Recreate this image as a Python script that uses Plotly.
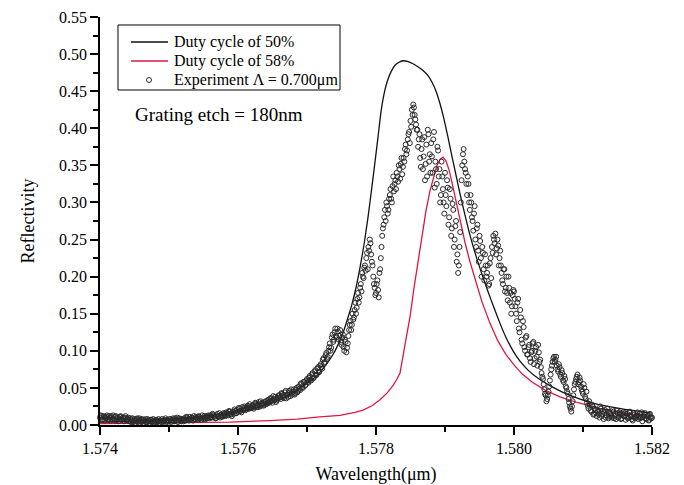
import numpy as np
import plotly.graph_objects as go

# ---------------- data ----------------
# Simulated reflectivity, duty cycle 50 %
sim50_wl = [1.574000, 1.574435, 1.574870, 1.575304, 1.575739, 1.576130, 1.576391, 1.576609, 1.576826, 1.576971,
            1.577087, 1.577188, 1.577290, 1.577377, 1.577449, 1.577522, 1.577594, 1.577652, 1.577710, 1.577768,
            1.577826, 1.577884, 1.577942, 1.577986, 1.578029, 1.578072, 1.578116, 1.578159, 1.578217, 1.578275,
            1.578333, 1.578391, 1.578464, 1.578536, 1.578609, 1.578681, 1.578754, 1.578812, 1.578870, 1.578928,
            1.578986, 1.579043, 1.579101, 1.579159, 1.579217, 1.579290, 1.579362, 1.579449, 1.579536, 1.579623,
            1.579710, 1.579797, 1.579884, 1.579986, 1.580087, 1.580203, 1.580348, 1.580522, 1.580710, 1.580957,
            1.581246, 1.581609, 1.582000]
sim50_r = [0.004, 0.005, 0.007, 0.010, 0.014, 0.020, 0.026, 0.034, 0.045, 0.054,
           0.062, 0.071, 0.083, 0.095, 0.108, 0.124, 0.145, 0.163, 0.185, 0.212,
           0.243, 0.280, 0.322, 0.355, 0.388, 0.422, 0.446, 0.462, 0.476, 0.485,
           0.489, 0.491, 0.490, 0.487, 0.483, 0.478, 0.471, 0.462, 0.450, 0.433,
           0.412, 0.388, 0.362, 0.337, 0.312, 0.283, 0.256, 0.228, 0.203, 0.180,
           0.158, 0.137, 0.118, 0.100, 0.086, 0.074, 0.063, 0.053, 0.044, 0.035,
           0.027, 0.021, 0.016]

# Simulated reflectivity, duty cycle 58 %
sim58_wl = [1.574000, 1.574870, 1.575884, 1.576464, 1.576855, 1.577188, 1.577478, 1.577696, 1.577812, 1.577942,
            1.578058, 1.578159, 1.578246, 1.578304, 1.578348, 1.578420, 1.578493, 1.578551, 1.578609, 1.578667,
            1.578725, 1.578783, 1.578841, 1.578884, 1.578928, 1.578971, 1.579014, 1.579058, 1.579101, 1.579159,
            1.579217, 1.579290, 1.579362, 1.579449, 1.579536, 1.579652, 1.579768, 1.579884, 1.580000, 1.580116,
            1.580261, 1.580449, 1.580667, 1.580928, 1.581246, 1.581609, 1.582000]
sim58_r = [0.002, 0.003, 0.004, 0.006, 0.008, 0.011, 0.013, 0.017, 0.020, 0.026,
           0.034, 0.043, 0.053, 0.062, 0.070, 0.108, 0.146, 0.185, 0.222, 0.257,
           0.289, 0.316, 0.337, 0.350, 0.358, 0.361, 0.356, 0.344, 0.327, 0.302,
           0.276, 0.246, 0.220, 0.192, 0.166, 0.137, 0.113, 0.095, 0.081, 0.069,
           0.058, 0.047, 0.038, 0.030, 0.022, 0.016, 0.011]

# Measured reflectivity: two interleaved sweeps over 1.574 um .. 1.582 um, 0.02 nm step each
exp_wl_start = 1.574
exp_mid_wl_start = 1.57401
exp_wl_step = 0.00002
exp_r = [
    0.010, 0.012, 0.008, 0.011, 0.009, 0.013, 0.007, 0.010, 0.012, 0.008,
    0.009, 0.011, 0.006, 0.010, 0.008, 0.012, 0.007, 0.009, 0.010, 0.006,
    0.008, 0.005, 0.009, 0.007, 0.004, 0.008, 0.006, 0.009, 0.005, 0.007,
    0.004, 0.007, 0.005, 0.008, 0.004, 0.006, 0.003, 0.007, 0.005, 0.006,
    0.004, 0.007, 0.005, 0.003, 0.006, 0.008, 0.004, 0.006, 0.005, 0.007,
    0.005, 0.008, 0.006, 0.009, 0.005, 0.007, 0.010, 0.006, 0.008, 0.005,
    0.007, 0.009, 0.006, 0.010, 0.008, 0.011, 0.007, 0.009, 0.012, 0.008,
    0.010, 0.007, 0.011, 0.009, 0.013, 0.008, 0.010, 0.012, 0.009, 0.011,
    0.013, 0.010, 0.014, 0.011, 0.009, 0.015, 0.012, 0.010, 0.014, 0.012,
    0.015, 0.012, 0.016, 0.013, 0.018, 0.014, 0.017, 0.015, 0.019, 0.016,
    0.018, 0.022, 0.019, 0.024, 0.020, 0.023, 0.021, 0.026, 0.022, 0.025,
    0.023, 0.027, 0.024, 0.029, 0.026, 0.031, 0.025, 0.028, 0.030, 0.027,
    0.032, 0.029, 0.034, 0.031, 0.036, 0.030, 0.035, 0.038, 0.033, 0.037,
    0.040, 0.035, 0.042, 0.038, 0.044, 0.036, 0.041, 0.046, 0.039, 0.043,
    0.045, 0.041, 0.048, 0.044, 0.052, 0.047, 0.055, 0.050, 0.058, 0.054,
    0.062, 0.057, 0.066, 0.060, 0.070, 0.064, 0.074, 0.068, 0.078, 0.072,
    0.082, 0.076, 0.090, 0.085, 0.097, 0.092, 0.105, 0.100, 0.118, 0.112,
    0.125, 0.120, 0.130, 0.115, 0.128, 0.108, 0.122, 0.100, 0.112, 0.104,
    0.120, 0.135, 0.128, 0.150, 0.145, 0.165, 0.158, 0.178, 0.172, 0.190,
    0.205, 0.198, 0.215, 0.225, 0.210, 0.235, 0.245, 0.220, 0.200, 0.185,
    0.178, 0.195, 0.172, 0.210, 0.240, 0.265, 0.280, 0.275, 0.295, 0.290,
    0.310, 0.305, 0.322, 0.315, 0.330, 0.340, 0.328, 0.345, 0.352, 0.338,
    0.360, 0.372, 0.365, 0.385, 0.395, 0.410, 0.425, 0.432, 0.418, 0.405,
    0.398, 0.385, 0.360, 0.372, 0.345, 0.388, 0.352, 0.335, 0.392, 0.365,
    0.380, 0.340, 0.395, 0.355, 0.325, 0.370, 0.345, 0.310, 0.335, 0.300,
    0.340, 0.295, 0.320, 0.280, 0.305, 0.265, 0.290, 0.250, 0.275, 0.230,
    0.215, 0.260, 0.330, 0.365, 0.355, 0.340, 0.310, 0.325, 0.290, 0.300,
    0.275, 0.285, 0.250, 0.265, 0.235, 0.255, 0.225, 0.240, 0.210, 0.230,
    0.200, 0.215, 0.190, 0.225, 0.240, 0.255, 0.245, 0.230, 0.250, 0.215,
    0.235, 0.205, 0.190, 0.210, 0.185, 0.178, 0.200, 0.165, 0.150, 0.175,
    0.180, 0.160, 0.140, 0.170, 0.125, 0.145, 0.110, 0.132, 0.100, 0.120,
    0.095, 0.108, 0.085, 0.100, 0.112, 0.090, 0.105, 0.080, 0.098, 0.088,
    0.070, 0.062, 0.048, 0.040, 0.035, 0.045, 0.060, 0.075, 0.085, 0.092,
    0.088, 0.080, 0.072, 0.078, 0.065, 0.070, 0.058, 0.062, 0.050, 0.042,
    0.030, 0.022, 0.025, 0.040, 0.055, 0.062, 0.068, 0.058, 0.060, 0.048,
    0.042, 0.050, 0.035, 0.030, 0.022, 0.028, 0.018, 0.025, 0.015, 0.020,
    0.012, 0.018, 0.010, 0.022, 0.015, 0.008, 0.020, 0.013, 0.018, 0.011,
    0.015, 0.010, 0.018, 0.012, 0.008, 0.016, 0.011, 0.014, 0.009, 0.017,
    0.012, 0.007, 0.015, 0.010, 0.018, 0.011, 0.006, 0.014, 0.009, 0.013,
    0.008, 0.015, 0.010, 0.005, 0.012, 0.016, 0.009, 0.013, 0.007, 0.011,
    0.010,
]
exp_r_mid = [
    0.013, 0.007, 0.012, 0.006, 0.011, 0.008, 0.012, 0.006, 0.010, 0.013,
    0.006, 0.012, 0.009, 0.005, 0.011, 0.007, 0.010, 0.005, 0.012, 0.008,
    0.010, 0.006, 0.004, 0.009, 0.006, 0.003, 0.008, 0.004, 0.009, 0.005,
    0.008, 0.003, 0.006, 0.004, 0.008, 0.005, 0.007, 0.004, 0.008, 0.003,
    0.006, 0.004, 0.008, 0.006, 0.004, 0.005, 0.007, 0.009, 0.004, 0.006,
    0.008, 0.004, 0.007, 0.005, 0.009, 0.006, 0.004, 0.009, 0.006, 0.008,
    0.005, 0.007, 0.011, 0.007, 0.006, 0.008, 0.010, 0.006, 0.008, 0.011,
    0.008, 0.012, 0.009, 0.007, 0.010, 0.012, 0.008, 0.011, 0.013, 0.009,
    0.011, 0.015, 0.012, 0.009, 0.013, 0.011, 0.016, 0.013, 0.011, 0.016,
    0.013, 0.017, 0.014, 0.019, 0.015, 0.012, 0.018, 0.021, 0.016, 0.020,
    0.023, 0.019, 0.017, 0.021, 0.025, 0.020, 0.024, 0.022, 0.028, 0.023,
    0.026, 0.022, 0.030, 0.027, 0.024, 0.028, 0.032, 0.029, 0.026, 0.031,
    0.028, 0.033, 0.030, 0.036, 0.033, 0.039, 0.034, 0.031, 0.036, 0.040,
    0.037, 0.043, 0.040, 0.036, 0.046, 0.041, 0.038, 0.044, 0.048, 0.041,
    0.048, 0.043, 0.050, 0.046, 0.049, 0.056, 0.051, 0.058, 0.053, 0.060,
    0.058, 0.064, 0.061, 0.068, 0.063, 0.072, 0.067, 0.076, 0.071, 0.080,
    0.078, 0.088, 0.083, 0.094, 0.089, 0.100, 0.110, 0.104, 0.122, 0.115,
    0.130, 0.118, 0.126, 0.120, 0.112, 0.118, 0.105, 0.115, 0.098, 0.110,
    0.128, 0.140, 0.135, 0.142, 0.155, 0.150, 0.170, 0.165, 0.185, 0.180,
    0.200, 0.212, 0.208, 0.232, 0.240, 0.250, 0.230, 0.215, 0.190, 0.175,
    0.190, 0.182, 0.205, 0.225, 0.255, 0.270, 0.290, 0.300, 0.285, 0.305,
    0.318, 0.300, 0.335, 0.325, 0.318, 0.335, 0.350, 0.332, 0.360, 0.348,
    0.355, 0.378, 0.370, 0.392, 0.380, 0.402, 0.418, 0.428, 0.412, 0.398,
    0.375, 0.392, 0.348, 0.385, 0.362, 0.330, 0.378, 0.398, 0.355, 0.340,
    0.362, 0.385, 0.320, 0.345, 0.375, 0.335, 0.300, 0.355, 0.318, 0.285,
    0.310, 0.330, 0.270, 0.318, 0.255, 0.298, 0.240, 0.268, 0.220, 0.205,
    0.240, 0.300, 0.350, 0.372, 0.345, 0.325, 0.335, 0.300, 0.310, 0.280,
    0.262, 0.295, 0.240, 0.270, 0.220, 0.248, 0.200, 0.232, 0.195, 0.215,
    0.205, 0.188, 0.218, 0.198, 0.232, 0.250, 0.258, 0.238, 0.242, 0.225,
    0.215, 0.195, 0.210, 0.180, 0.200, 0.168, 0.185, 0.178, 0.160, 0.182,
    0.170, 0.150, 0.165, 0.130, 0.155, 0.115, 0.140, 0.105, 0.118, 0.095,
    0.105, 0.090, 0.098, 0.110, 0.082, 0.100, 0.092, 0.108, 0.085, 0.078,
    0.065, 0.055, 0.042, 0.032, 0.040, 0.052, 0.068, 0.080, 0.090, 0.085,
    0.092, 0.075, 0.082, 0.068, 0.074, 0.060, 0.066, 0.052, 0.045, 0.035,
    0.025, 0.018, 0.032, 0.048, 0.058, 0.065, 0.055, 0.064, 0.052, 0.045,
    0.055, 0.038, 0.045, 0.026, 0.032, 0.020, 0.027, 0.014, 0.022, 0.016,
    0.020, 0.014, 0.025, 0.012, 0.019, 0.016, 0.010, 0.022, 0.009, 0.016,
    0.012, 0.020, 0.009, 0.015, 0.019, 0.010, 0.017, 0.008, 0.015, 0.012,
    0.016, 0.011, 0.009, 0.017, 0.013, 0.008, 0.016, 0.010, 0.012, 0.017,
    0.012, 0.009, 0.017, 0.011, 0.014, 0.008, 0.012, 0.006, 0.015, 0.009,
]
exp_wl = np.concatenate([
    exp_wl_start + exp_wl_step * np.arange(len(exp_r)),
    exp_mid_wl_start + exp_wl_step * np.arange(len(exp_r_mid)),
])
exp_all_r = np.concatenate([exp_r, exp_r_mid])

x_tick_vals = [1.574, 1.576, 1.578, 1.580, 1.582]
x_tick_text = ["1.574", "1.576", "1.578", "1.580", "1.582"]
y_tick_vals = [0.00, 0.05, 0.10, 0.15, 0.20, 0.25, 0.30, 0.35, 0.40, 0.45, 0.50, 0.55]
y_tick_text = ["%.2f" % v for v in y_tick_vals]

legend_labels = ["Duty cycle of 50%", "Duty cycle of 58%", "Experiment \u039b = 0.700\u03bcm"]

# ---------------- figure ----------------
FONT = "Liberation Serif, Times New Roman, serif"
BLACK = "#111111"
RED = "#dc1840"
MARK = "#2a2a2a"

fig = go.Figure()
fig.add_trace(go.Scatter(
    x=sim50_wl, y=sim50_r, mode="lines", name=legend_labels[0],
    line=dict(color=BLACK, width=1.3, shape="spline", smoothing=0.5),
))
fig.add_trace(go.Scatter(
    x=sim58_wl, y=sim58_r, mode="lines", name=legend_labels[1],
    line=dict(color=RED, width=1.3),
))
fig.add_trace(go.Scatter(
    x=exp_wl, y=exp_all_r, mode="markers", name=legend_labels[2],
    marker=dict(symbol="circle-open", size=5, color=MARK, line=dict(width=1)),
    cliponaxis=False,
))

# Legend box drawn in paper coordinates (compact, like the original)
box = dict(x0=0.0326, x1=0.4348, y0=0.8211, y1=0.9804)
row_y = [0.9387, 0.8922, 0.8456]
fig.add_shape(type="rect", xref="paper", yref="paper", layer="above",
              line=dict(color="black", width=1), fillcolor="white", **box)
fig.add_shape(type="line", xref="paper", yref="paper", layer="above",
              x0=0.0562, x1=0.1232, y0=row_y[0], y1=row_y[0], line=dict(color=BLACK, width=1.3))
fig.add_shape(type="line", xref="paper", yref="paper", layer="above",
              x0=0.0562, x1=0.1232, y0=row_y[1], y1=row_y[1], line=dict(color=RED, width=1.3))
fig.add_shape(type="circle", xref="paper", yref="paper", layer="above",
              x0=0.0888 - 0.0045, x1=0.0888 + 0.0045,
              y0=row_y[2] - 0.0061, y1=row_y[2] + 0.0061, line=dict(color=MARK, width=1))
for label, yy in zip(legend_labels, row_y):
    fig.add_annotation(x=0.1304, y=yy, xref="paper", yref="paper", xanchor="left",
                       yanchor="middle", text=label, showarrow=False,
                       font=dict(family=FONT, size=16, color="black"))

fig.add_annotation(
    x=0.0598, y=0.760, xref="paper", yref="paper", xanchor="left", yanchor="middle",
    text="Grating etch = 180nm", showarrow=False,
    font=dict(family=FONT, size=19, color="black"),
)

fig.update_layout(
    width=684, height=485,
    margin=dict(l=100, r=32, t=17, b=60),
    paper_bgcolor="white", plot_bgcolor="white",
    font=dict(family=FONT, size=16, color="black"),
    showlegend=False,
)
fig.update_xaxes(
    range=[1.574, 1.582], showline=True, linecolor="black", linewidth=1.5,
    showgrid=False, zeroline=False, mirror=False, automargin=False,
    tickmode="array", tickvals=x_tick_vals, ticktext=x_tick_text,
    ticks="outside", ticklen=8, tickwidth=1.5, tickcolor="black",
    minor=dict(dtick=0.001, ticks="outside", ticklen=5, tickwidth=1.5, tickcolor="black", showgrid=False),
    tickfont=dict(family=FONT, size=16),
    title=dict(text="Wavelength(\u03bcm)", font=dict(family=FONT, size=18), standoff=15),
)
fig.update_yaxes(
    range=[0, 0.55], showline=True, linecolor="black", linewidth=1.5,
    showgrid=False, zeroline=False, mirror=False, automargin=False,
    tickmode="array", tickvals=y_tick_vals, ticktext=y_tick_text,
    ticks="outside", ticklen=8, tickwidth=1.5, tickcolor="black",
    minor=dict(dtick=0.025, ticks="outside", ticklen=5, tickwidth=1.5, tickcolor="black", showgrid=False),
    tickfont=dict(family=FONT, size=16),
    title=dict(text="Reflectivity", font=dict(family=FONT, size=18), standoff=20),
)

fig.write_html("out.html", config={"displayModeBar": False},
               post_script="document.body.style.margin='0';")
